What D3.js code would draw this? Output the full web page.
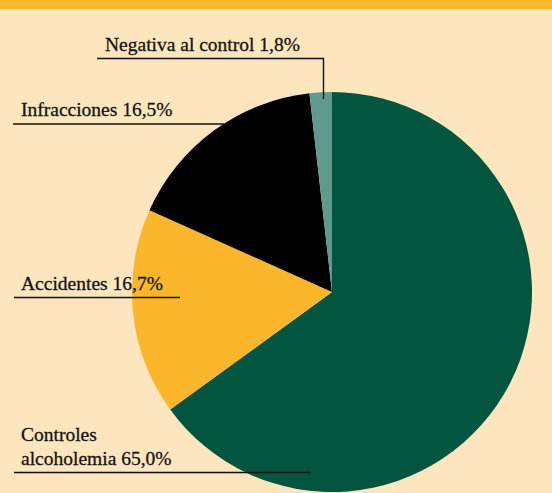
<!DOCTYPE html>
<html>
<head>
<meta charset="utf-8">
<script src="https://cdn.jsdelivr.net/npm/d3@7"></script>
<style>
  html, body { margin: 0; padding: 0; background: #fde5bd; }
  svg { display: block; }
  text { font-family: "Liberation Serif", "Times New Roman", serif; fill: #141414; stroke: #141414; stroke-width: 0.3px; }
</style>
</head>
<body>
<svg id="chart" width="552" height="493"></svg>
<script>
// Distribution of alcohol tests by reason
const categories = ["Controles alcoholemia", "Accidentes", "Infracciones", "Negativa al control"];
const values = [65.0, 16.7, 16.5, 1.8];
const valueLabels = ["65,0%", "16,7%", "16,5%", "1,8%"];
const colors = ["#02563f", "#fcb62c", "#000000", "#5f9a8c"];

const W = 552, H = 493;
const cx = 332, cy = 292, R = 200;

const svg = d3.select("#chart");

svg.append("rect").attr("width", W).attr("height", H).attr("fill", "#fde5bd");
svg.append("rect").attr("width", W).attr("height", 9).attr("fill", "#fcb82c");

const pie = d3.pie().sort(null).value(d => d)(values);
const arc = d3.arc().innerRadius(0).outerRadius(R);

const g = svg.append("g").attr("transform", `translate(${cx},${cy})`);
g.selectAll("path")
  .data(pie)
  .join("path")
  .attr("d", arc)
  .attr("fill", (d, i) => colors[i]);

// Callout layout for each slice: text lines, baseline positions and leader line
const callouts = [
  { lines: ["Controles", "alcoholemia " + valueLabels[0]], x: 21, y: 441, lh: 24,
    path: [[14, 472.5], [311, 472.5]] },
  { lines: ["Accidentes " + valueLabels[1]], x: 21, y: 290, lh: 0,
    path: [[14, 297.5], [180, 297.5]] },
  { lines: ["Infracciones " + valueLabels[2]], x: 21, y: 116, lh: 0,
    path: [[13, 124], [224, 124]] },
  { lines: ["Negativa al control " + valueLabels[3]], x: 105, y: 51, lh: 0,
    path: [[97, 58.5], [323.5, 58.5], [323.5, 99]] }
];

callouts.forEach((c, i) => {
  const labelName = categories[i];
  svg.append("path")
    .attr("d", d3.line()(c.path))
    .attr("fill", "none")
    .attr("stroke", "#111")
    .attr("stroke-width", 1.4);
  const t = svg.append("text")
    .attr("x", c.x)
    .attr("y", c.y)
    .attr("font-size", 19.5)
    .attr("data-name", labelName);
  c.lines.forEach((ln, k) => {
    t.append("tspan").attr("x", c.x).attr("y", c.y + k * c.lh).text(ln);
  });
});
</script>
</body>
</html>
